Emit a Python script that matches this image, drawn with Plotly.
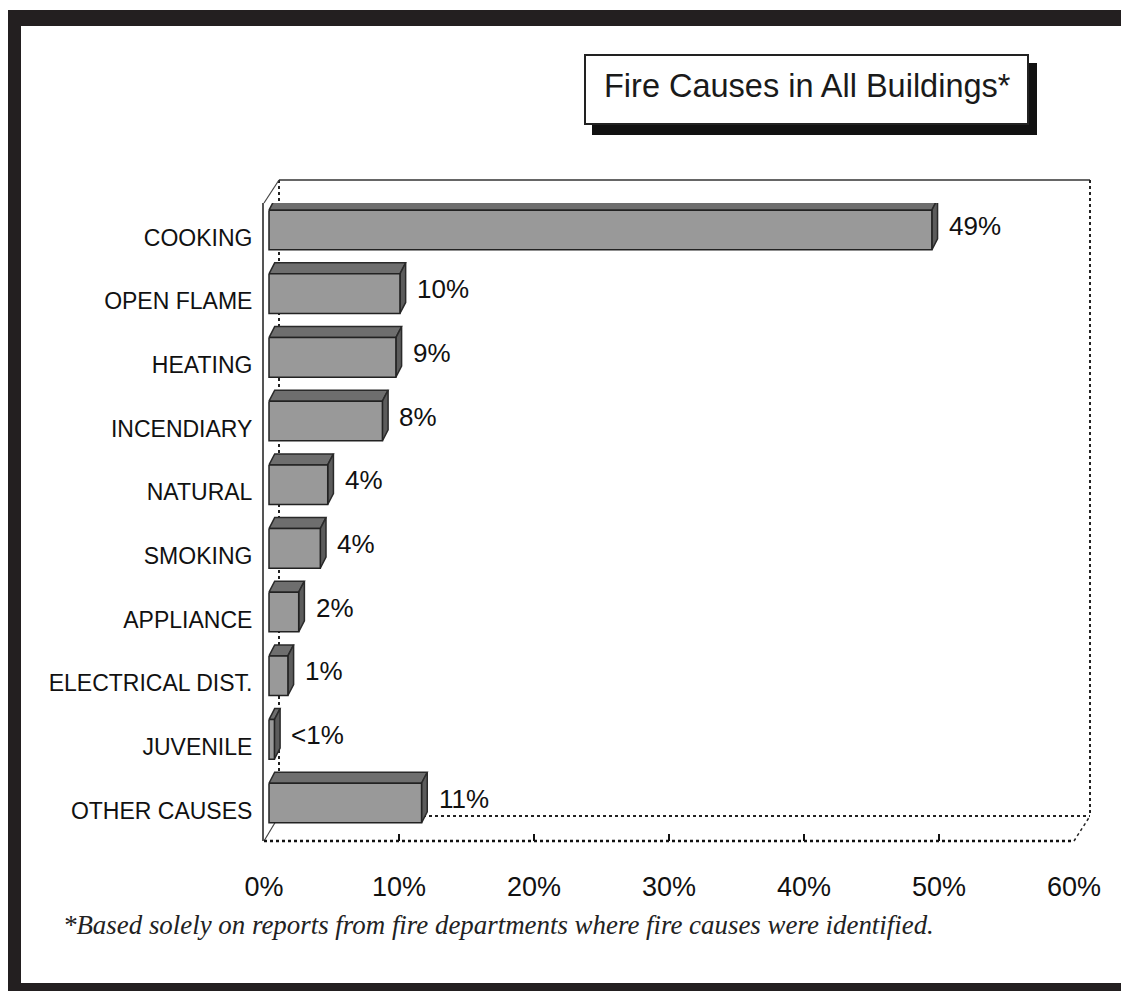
import plotly.graph_objects as go

# ---------------- data ----------------
categories = ["COOKING", "OPEN FLAME", "HEATING", "INCENDIARY", "NATURAL",
              "SMOKING", "APPLIANCE", "ELECTRICAL DIST.", "JUVENILE", "OTHER CAUSES"]
values = [49.1, 9.7, 9.4, 8.4, 4.35, 3.8, 2.2, 1.4, 0.4, 11.3]
value_labels = ["49%", "10%", "9%", "8%", "4%", "4%", "2%", "1%", "<1%", "11%"]
x_ticks = [0, 10, 20, 30, 40, 50, 60]
x_tick_labels = ["0%", "10%", "20%", "30%", "40%", "50%", "60%"]
title_text = "Fire Causes in All Buildings*"
footnote_text = "*Based solely on reports from fire departments where fire causes were identified."

# ---------------- geometry helpers ----------------
OFF = 8                      # page body margin
W, H = 1129 - OFF, 991 - OFF
def px(x):
    return (x - OFF) / W
def py(y):
    return 1 - (y - OFF) / H

# plot (front plane) pixel box
X0, X1 = 264, 1074          # 0% .. 60%
Y_TOP, Y_BOT = 203, 841
CAT0, CAT_STEP = 237.5, 63.67
XMAX = 60
XS = (X1 - X0) / XMAX       # px per %
y_lo = (Y_TOP - CAT0) / CAT_STEP
y_hi = (Y_BOT - CAT0) / CAT_STEP

# 3D depth parameters (pixels -> data units)
FX = 5 / XS                 # front face x shift
FY = -7.5 / CAT_STEP        # front face y shift
HH = 19.8 / CAT_STEP        # half height of front face
DX = 5.7 / XS               # depth x
DY = -11 / CAT_STEP         # depth y

fronts_x, fronts_y, tops_x, tops_y, sides_x, sides_y = [], [], [], [], [], []
for i, v in enumerate(values):
    a = FX
    b = v + FX
    yt = i + FY - HH
    yb = i + FY + HH
    fronts_x += [a, b, b, a, a, None]
    fronts_y += [yt, yt, yb, yb, yt, None]
    tops_x += [a, b, b + DX, a + DX, a, None]
    tops_y += [yt, yt, yt + DY, yt + DY, yt, None]
    sides_x += [b, b + DX, b + DX, b, b, None]
    sides_y += [yt, yt + DY, yb + DY, yb, yt, None]

fig = go.Figure()
fig.add_trace(go.Scatter(x=tops_x, y=tops_y, mode="lines", fill="toself",
                         fillcolor="#6e6e6e", line=dict(color="#2a2a2a", width=1.5),
                         hoverinfo="skip", showlegend=False))
fig.add_trace(go.Scatter(x=sides_x, y=sides_y, mode="lines", fill="toself",
                         fillcolor="#5c5c5c", line=dict(color="#2a2a2a", width=1.5),
                         hoverinfo="skip", showlegend=False))
fig.add_trace(go.Scatter(x=fronts_x, y=fronts_y, mode="lines", fill="toself",
                         fillcolor="#999999", line=dict(color="#222222", width=1.5),
                         hoverinfo="skip", showlegend=False))

# value labels
for i, (v, lab) in enumerate(zip(values, value_labels)):
    fig.add_annotation(x=v, y=i, text=lab, showarrow=False, xanchor="left",
                       yanchor="middle", xshift=20, yshift=12,
                       font=dict(family="Arial, Liberation Sans", size=26, color="#111"))

shapes = []
# outer thick frame
shapes.append(dict(type="rect", xref="paper", yref="paper",
                   x0=px(13), x1=px(1131), y0=py(18), y1=py(991),
                   line=dict(color="#231f20", width=16), fillcolor="rgba(0,0,0,0)"))
# title shadow + box
shapes.append(dict(type="rect", xref="paper", yref="paper",
                   x0=px(592), x1=px(1037), y0=py(63), y1=py(135),
                   line=dict(width=0), fillcolor="#111111"))
shapes.append(dict(type="rect", xref="paper", yref="paper",
                   x0=px(585), x1=px(1028), y0=py(55), y1=py(124),
                   line=dict(color="#222", width=2), fillcolor="white"))
# 3D walls
BX, BY = 15, -25
def seg(x0, y0, x1, y1, dash="solid", color="#444", width=1.5, layer="below"):
    shapes.append(dict(type="line", xref="paper", yref="paper", x0=px(x0), y0=py(y0),
                       x1=px(x1), y1=py(y1), layer=layer,
                       line=dict(color=color, width=width, dash=dash)))
# back wall
seg(X0 + BX, Y_TOP - 23, X1 + BX + 1, Y_TOP - 23, color="#333", width=1.5)
seg(X0 + BX, Y_TOP - 23, X0 + BX, Y_BOT + BY, dash="dot", color="#222", width=2)
seg(X1 + BX + 1, Y_TOP - 23, X1 + BX + 1, Y_BOT + BY, dash="dot", color="#222", width=2)
seg(X0 + BX, Y_BOT + BY, X1 + BX + 1, Y_BOT + BY, dash="dot", color="#222", width=2)
# left wall diagonals
seg(X0, Y_TOP, X0 + BX, Y_TOP - 23, color="#444", width=1.2)
seg(X0, Y_BOT, X0 + BX, Y_BOT + BY, color="#444", width=1.2)
# floor front edge & right diagonal
seg(X0, Y_BOT, X1, Y_BOT, dash="dot", color="#111", width=2.5, layer="above")
seg(X1, Y_BOT, X1 + BX + 1, Y_BOT + BY, dash="dot", color="#222", width=1.5)

fig.update_layout(shapes=shapes)

# title
fig.add_annotation(xref="paper", yref="paper", x=px(807), y=py(86), text=title_text,
                   showarrow=False, xanchor="center", yanchor="middle",
                   font=dict(family="Arial, Liberation Sans", size=32.5, color="#1a1a1a"))
# footnote
fig.add_annotation(xref="paper", yref="paper", x=px(61), y=py(925),
                   text="<i>" + footnote_text + "</i>",
                   showarrow=False, xanchor="left", yanchor="middle",
                   font=dict(family="Liberation Serif, Times New Roman", size=26.9, color="#222"))

fig.update_layout(
    width=W, height=H, autosize=False,
    margin=dict(l=0, r=0, t=0, b=0, pad=0, autoexpand=False),
    paper_bgcolor="white", plot_bgcolor="white",
    showlegend=False,
    xaxis=dict(domain=[px(X0), px(X1)], range=[0, XMAX], tickvals=x_ticks,
               ticktext=x_tick_labels, ticks="inside", ticklen=7, tickwidth=2,
               tickcolor="#111", showgrid=False, zeroline=False, showline=False,
               ticklabelstandoff=27, automargin=False,
               tickfont=dict(family="Arial, Liberation Sans", size=27, color="#111")),
    yaxis=dict(domain=[py(Y_BOT), py(Y_TOP)], range=[y_hi, y_lo],
               tickvals=list(range(len(categories))), ticktext=categories,
               ticks="", showgrid=False, zeroline=False, showline=True,
               linecolor="#555", linewidth=2, ticklabelstandoff=5, automargin=False,
               tickfont=dict(family="Arial, Liberation Sans", size=23, color="#111")),
)

fig.write_html("out.html")
